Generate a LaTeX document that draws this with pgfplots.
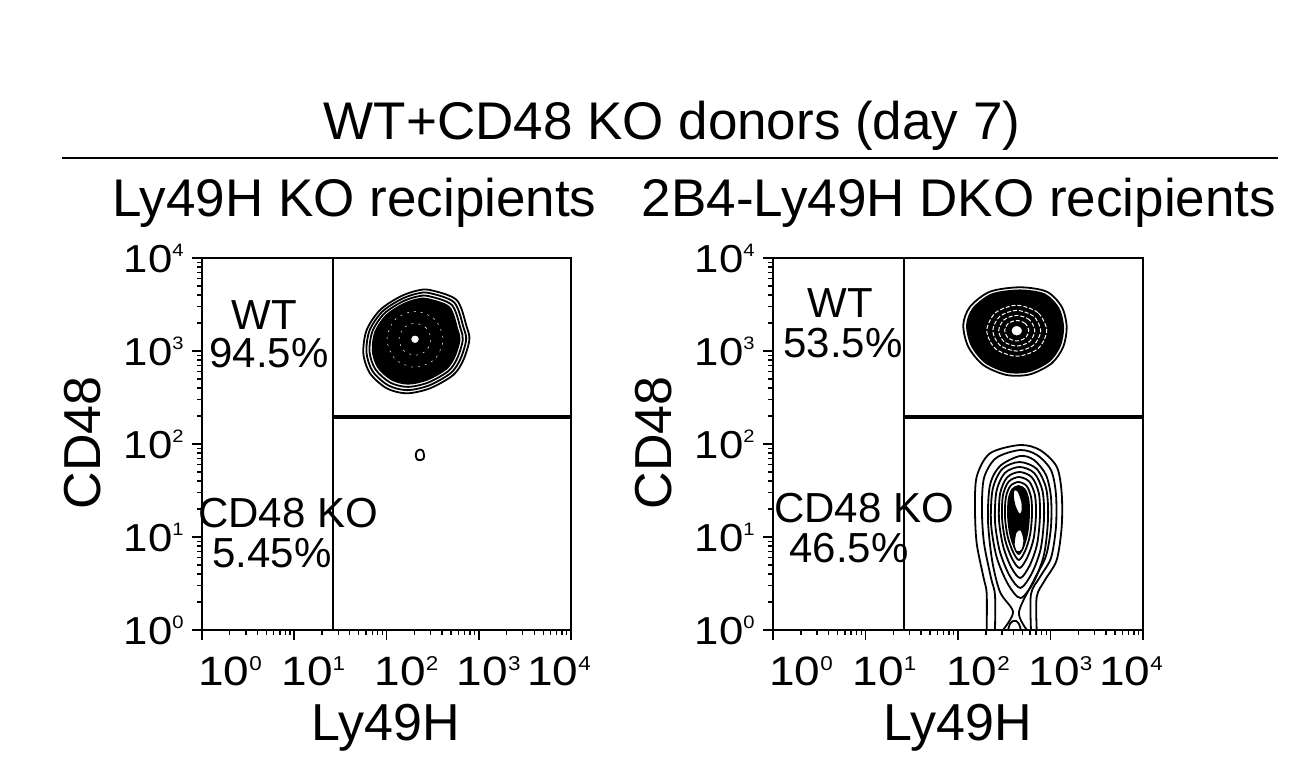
\documentclass[border=0pt]{standalone}
\usepackage{fontspec}
\setmainfont{Liberation Sans}
\newfontfamily\xtf[FakeStretch=1.12]{Liberation Sans}
\newfontfamily\ytf[FakeStretch=1.12]{Liberation Sans}
\usepackage{pgfplots}
\pgfplotsset{compat=1.18}

\newcommand{\xt}[1]{{\xtf\fontsize{20.5}{20.5}\selectfont 10\raisebox{7.4pt}{\fontsize{10}{10}\selectfont #1}}}
\newcommand{\yt}[1]{{\ytf\fontsize{19.5}{19.5}\selectfont 10\raisebox{7.6pt}{\fontsize{9}{9}\selectfont #1}}}

\pgfplotsset{facs/.style={
  scale only axis, height=186pt,
  xmin=0, xmax=4, ymin=0, ymax=4,
  axis line style={line width=1pt},
  xtick={0,1,2,3,4}, ytick={0,1,2,3,4},
  minor xtick={0.301,0.477,0.602,0.699,0.778,0.845,0.903,0.954,1.301,1.477,1.602,1.699,1.778,1.845,1.903,1.954,2.301,2.477,2.602,2.699,2.778,2.845,2.903,2.954,3.301,3.477,3.602,3.699,3.778,3.845,3.903,3.954},
  minor ytick={0.301,0.477,0.602,0.699,0.778,0.845,0.903,0.954,1.301,1.477,1.602,1.699,1.778,1.845,1.903,1.954,2.301,2.477,2.602,2.699,2.778,2.845,2.903,2.954,3.301,3.477,3.602,3.699,3.778,3.845,3.903,3.954},
  tick align=outside, tick pos=left,
  major tick length=5pt, minor tick length=2.5pt,
  tick style={black, line width=0.9pt},
  minor tick style={black, line width=0.7pt},
  xticklabels={{\hspace*{28pt}\xt{0}},{\hspace*{19pt}\xt{1}},{\hspace*{20pt}\xt{2}},{\hspace*{10pt}\xt{3}},{\xt{4}\hspace*{12pt}}},
  yticklabels={\yt{0},\yt{1},\yt{2},\yt{3},\yt{4}},
  xticklabel style={anchor=base, inner sep=0pt, yshift=-22.5pt},
  yticklabel style={anchor=base east, inner sep=0pt, xshift=-4pt, yshift=-7pt},
  no markers,
}}

\begin{document}
\begin{tikzpicture}
\useasboundingbox (0,0) rectangle (650.5pt,389pt);

% ---------------- left: Ly49H KO recipients ----------------
\begin{axis}[facs, at={(101pt,74pt)}, anchor=south west, width=184.5pt]
\addplot[black, line width=1pt] coordinates {(1.42,0) (1.42,4)};
\addplot[black, line width=2pt] coordinates {(1.42,2.295) (4,2.295)};
% WT population contours
\addplot[black, line width=0.9pt, smooth cycle] coordinates {(2.472,3.656) (2.761,3.548) (2.869,3.261) (2.898,3.118) (2.833,2.903) (2.724,2.742) (2.472,2.599) (2.219,2.545) (2.002,2.599) (1.821,2.760) (1.749,2.975) (1.785,3.226) (1.930,3.441) (2.146,3.584) (2.327,3.648)};
\addplot[black, line width=0.9pt, smooth cycle] coordinates {(2.462,3.624) (2.734,3.522) (2.835,3.252) (2.863,3.118) (2.802,2.916) (2.699,2.765) (2.462,2.630) (2.224,2.579) (2.020,2.630) (1.850,2.781) (1.783,2.984) (1.816,3.220) (1.953,3.422) (2.156,3.556) (2.326,3.616)};
\addplot[black, line width=0.9pt, smooth cycle] coordinates {(2.452,3.591) (2.707,3.496) (2.802,3.244) (2.827,3.118) (2.770,2.929) (2.674,2.787) (2.452,2.661) (2.230,2.614) (2.039,2.661) (1.880,2.803) (1.816,2.992) (1.848,3.213) (1.975,3.402) (2.166,3.528) (2.325,3.584)};
\addplot[black, fill=black, line width=0.9pt, smooth cycle] coordinates {(2.443,3.559) (2.680,3.471) (2.768,3.235) (2.792,3.118) (2.739,2.942) (2.649,2.810) (2.443,2.692) (2.235,2.648) (2.057,2.692) (1.909,2.824) (1.850,3.001) (1.879,3.207) (1.998,3.383) (2.175,3.500) (2.324,3.553)};
\addplot[white, line width=0.25pt, dash pattern=on 1pt off 2.5pt, smooth cycle] coordinates {(2.613,3.126) (2.524,3.339) (2.309,3.427) (2.094,3.339) (2.005,3.126) (2.094,2.913) (2.309,2.825) (2.524,2.913)};
\addplot[white, line width=0.25pt, dash pattern=on 1pt off 2.5pt, smooth cycle] coordinates {(2.482,3.126) (2.431,3.248) (2.309,3.298) (2.187,3.248) (2.136,3.126) (2.187,3.004) (2.309,2.954) (2.431,3.004)};
\addplot[black, fill=white, line width=0.6pt, smooth cycle] coordinates {(2.358,3.126) (2.344,3.160) (2.309,3.174) (2.274,3.160) (2.260,3.126) (2.274,3.092) (2.309,3.078) (2.344,3.092)};
% small CD48 KO contour
\addplot[black, line width=0.9pt, smooth cycle] coordinates {(2.408,1.870) (2.395,1.925) (2.360,1.940) (2.325,1.915) (2.318,1.870) (2.335,1.832) (2.370,1.825) (2.400,1.840)};
\end{axis}

% ---------------- right: 2B4-Ly49H DKO recipients ----------------
\begin{axis}[facs, at={(386.5pt,74pt)}, anchor=south west, width=185pt]
\addplot[black, line width=1pt] coordinates {(1.42,0) (1.42,4)};
\addplot[black, line width=2pt] coordinates {(1.42,2.295) (4,2.295)};
% WT population
\addplot[black, line width=0.9pt, smooth cycle] coordinates {(2.346,3.638) (2.670,3.685) (2.959,3.638) (3.121,3.476) (3.175,3.261) (3.138,3.046) (3.013,2.868) (2.778,2.749) (2.526,2.742) (2.274,2.849) (2.111,3.046) (2.057,3.280) (2.130,3.476)};
\addplot[black, fill=black, line width=0.9pt, smooth cycle] coordinates {(2.366,3.609) (2.668,3.652) (2.936,3.609) (3.087,3.458) (3.137,3.258) (3.103,3.058) (2.987,2.892) (2.768,2.782) (2.534,2.775) (2.299,2.875) (2.148,3.058) (2.097,3.276) (2.165,3.458)};
\addplot[white, line width=0.5pt, dash pattern=on 2pt off 1pt, smooth cycle] coordinates {(2.959,3.218) (2.864,3.412) (2.635,3.492) (2.406,3.412) (2.311,3.218) (2.406,3.024) (2.635,2.944) (2.864,3.024)};
\addplot[white, line width=0.5pt, dash pattern=on 2pt off 1pt, smooth cycle] coordinates {(2.894,3.218) (2.818,3.373) (2.635,3.437) (2.452,3.373) (2.376,3.218) (2.452,3.063) (2.635,2.999) (2.818,3.063)};
\addplot[white, line width=0.5pt, dash pattern=on 2pt off 1pt, smooth cycle] coordinates {(2.830,3.218) (2.773,3.335) (2.635,3.383) (2.497,3.335) (2.440,3.218) (2.497,3.101) (2.635,3.053) (2.773,3.101)};
\addplot[white, line width=0.5pt, dash pattern=on 2pt off 1pt, smooth cycle] coordinates {(2.765,3.218) (2.727,3.296) (2.635,3.328) (2.543,3.296) (2.505,3.218) (2.543,3.140) (2.635,3.108) (2.727,3.140)};
\addplot[black, fill=white, line width=0.8pt, smooth cycle] coordinates {(2.700,3.218) (2.681,3.260) (2.635,3.278) (2.589,3.260) (2.570,3.218) (2.589,3.176) (2.635,3.158) (2.681,3.176)};
% CD48 KO population
\addplot[black, line width=0.9pt, smooth] coordinates {(2.310,0) (2.310,0.395) (2.274,0.573) (2.202,0.932) (2.184,1.290) (2.202,1.648) (2.346,1.900) (2.670,1.989) (2.886,1.935) (3.067,1.756) (3.121,1.470) (3.121,1.111) (3.067,0.753) (2.941,0.538) (2.851,0.358) (2.851,0)};
\addplot[black, line width=0.9pt, smooth] coordinates {(2.400,0) (2.400,0.376) (2.357,0.559) (2.281,0.935) (2.259,1.290) (2.281,1.634) (2.411,1.849) (2.670,1.935) (2.854,1.882) (3.005,1.720) (3.059,1.462) (3.059,1.108) (3.005,0.774) (2.886,0.570) (2.789,0.387) (2.789,0)};
\addplot[black, line width=0.9pt, smooth] coordinates {(2.486,0) (2.595,0.194) (2.454,0.409) (2.368,0.753) (2.324,1.183) (2.346,1.559) (2.454,1.763) (2.670,1.871) (2.822,1.828) (2.951,1.667) (3.005,1.430) (3.005,1.108) (2.951,0.796) (2.822,0.538) (2.659,0.194) (2.746,0)};
\addplot[black, line width=0.9pt, smooth] coordinates {(2.541,0) (2.562,0.065) (2.595,0.097) (2.627,0.097) (2.659,0.065) (2.681,0)};
\addplot[black, line width=0.9pt, smooth cycle] coordinates {(2.665,1.806) (2.850,1.733) (2.955,1.514) (2.973,1.192) (2.930,0.812) (2.819,0.519) (2.677,0.344) (2.542,0.490) (2.418,0.783) (2.357,1.148) (2.375,1.514) (2.480,1.733)};
\addplot[black, line width=0.9pt, smooth cycle] coordinates {(2.665,1.753) (2.824,1.688) (2.914,1.492) (2.930,1.206) (2.893,0.868) (2.797,0.608) (2.676,0.452) (2.559,0.582) (2.453,0.842) (2.400,1.167) (2.416,1.492) (2.506,1.688)};
\addplot[black, line width=0.9pt, smooth cycle] coordinates {(2.665,1.699) (2.798,1.642) (2.874,1.471) (2.886,1.220) (2.855,0.924) (2.776,0.696) (2.674,0.559) (2.576,0.673) (2.488,0.901) (2.443,1.186) (2.456,1.471) (2.532,1.642)};
\addplot[black, line width=0.9pt, smooth cycle] coordinates {(2.659,1.645) (2.770,1.596) (2.832,1.449) (2.843,1.234) (2.817,0.980) (2.751,0.784) (2.667,0.667) (2.586,0.765) (2.512,0.960) (2.476,1.204) (2.486,1.449) (2.549,1.596)};
\addplot[black, line width=0.9pt, smooth cycle] coordinates {(2.654,1.591) (2.742,1.549) (2.791,1.424) (2.800,1.239) (2.779,1.022) (2.727,0.854) (2.659,0.753) (2.596,0.837) (2.537,1.004) (2.508,1.214) (2.517,1.424) (2.566,1.549)};
\addplot[black, fill=black, line width=0.9pt, smooth cycle] coordinates {(2.654,1.548) (2.722,1.512) (2.761,1.402) (2.768,1.241) (2.751,1.052) (2.711,0.905) (2.658,0.817) (2.609,0.890) (2.563,1.037) (2.541,1.219) (2.547,1.402) (2.586,1.512)};
\addplot[black, fill=white, line width=0.7pt, smooth cycle] coordinates {(2.605,1.505) (2.649,1.495) (2.692,1.376) (2.692,1.269) (2.659,1.247) (2.616,1.333) (2.595,1.441)};
\addplot[black, fill=white, line width=0.7pt, smooth cycle] coordinates {(2.627,1.054) (2.681,1.075) (2.714,0.968) (2.692,0.860) (2.638,0.839) (2.605,0.914)};
\end{axis}

% ---------------- texts ----------------
\node[anchor=base, inner sep=0pt, font=\fontsize{26.5}{30}\selectfont] at (336pt,319pt) {WT+CD48 KO donors (day 7)};
\draw[line width=1pt] (31pt,310pt) -- (639pt,310pt);
\node[anchor=base, inner sep=0pt, font=\fontsize{26.5}{30}\selectfont] at (177.25pt,280.5pt) {Ly49H KO recipients};
\node[anchor=base, inner sep=0pt, font=\fontsize{26.5}{30}\selectfont] at (479.5pt,280.5pt) {2B4-Ly49H DKO recipients};

\node[anchor=base, inner sep=0pt, font=\fontsize{26}{30}\selectfont] at (192.75pt,19pt) {Ly49H};
\node[anchor=base, inner sep=0pt, font=\fontsize{26}{30}\selectfont] at (479pt,19pt) {Ly49H};
\node[anchor=base, rotate=90, inner sep=0pt, font=\fontsize{26}{30}\selectfont] at (50pt,167.5pt) {CD48};
\node[anchor=base, rotate=90, inner sep=0pt, font=\fontsize{26}{30}\selectfont] at (335.5pt,167.5pt) {CD48};

\node[anchor=base, inner sep=0pt, font=\fontsize{21}{24}\selectfont] at (132pt,224.5pt) {WT};
\node[anchor=base, inner sep=0pt, font=\fontsize{21}{24}\selectfont] at (134.5pt,205.5pt) {94.5\%};
\node[anchor=base, inner sep=0pt, font=\fontsize{21}{24}\selectfont] at (144pt,125.5pt) {CD48 KO};
\node[anchor=base, inner sep=0pt, font=\fontsize{21}{24}\selectfont] at (136pt,105.5pt) {5.45\%};

\node[anchor=base, inner sep=0pt, font=\fontsize{21}{24}\selectfont] at (420pt,230.5pt) {WT};
\node[anchor=base, inner sep=0pt, font=\fontsize{21}{24}\selectfont] at (421.5pt,210.5pt) {53.5\%};
\node[anchor=base, inner sep=0pt, font=\fontsize{21}{24}\selectfont] at (432pt,128pt) {CD48 KO};
\node[anchor=base, inner sep=0pt, font=\fontsize{21}{24}\selectfont] at (424.5pt,108pt) {46.5\%};
\end{tikzpicture}
\end{document}
